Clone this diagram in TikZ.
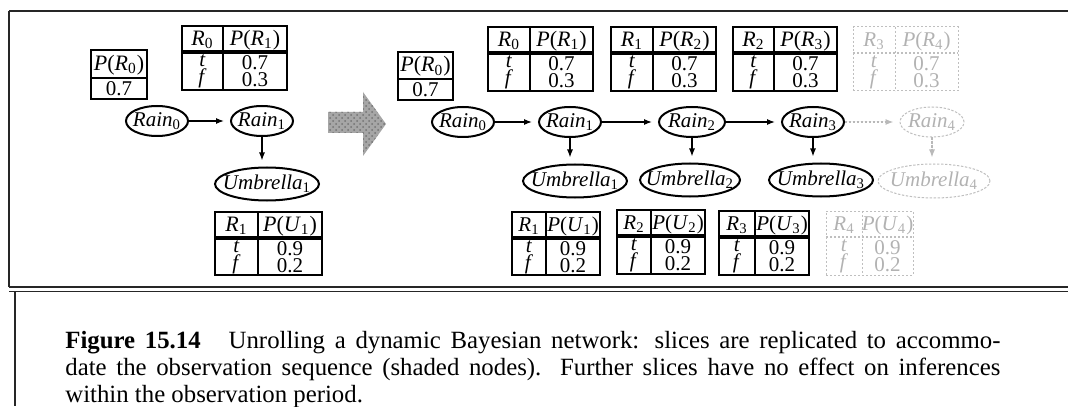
\documentclass[tikz,border=0pt]{standalone}
\usepackage{fontspec}
\setmainfont{Liberation Serif}
\usetikzlibrary{shapes.geometric,arrows.meta,patterns}

\newcommand\myiv[2]{\textit{#1}\textsubscript{#2}}
\newcommand\zb[1]{\makebox[0pt]{#1}}

% #1 name, #2 x0, #3 y0, #4 x1, #5 y1, #6 xdiv, #7 left head, #8 right head, #9 a/b values
\newcommand\cpttab[9]{%
  \pgfmathsetmacro\cxm{(#2+#4)/2}%
  \pgfmathsetmacro\cym{(#3+#5)/2}%
  \pgfmathsetmacro\cyd{#3+26}%
  \pgfmathsetmacro\cxl{(#2+#6)/2}%
  \pgfmathsetmacro\cxr{(#6+#4)/2}%
  \pgfmathsetmacro\cyh{(#3+\cyd)/2+1}%
  \pgfmathsetmacro\cyr{(\cyd+#5)/2+0.5}%
  \node[cptbox, minimum width={(#4-#2)*0.5pt}, minimum height={(#5-#3)*0.5pt}] (#1) at (\cxm,\cym) {};
  \draw[cptline] (#6,#3) -- (#6,#5);
  \draw[cptline, cptthick] (#2,\cyd) -- (#4,\cyd);
  \node[cpttext] (#1-hl) at (\cxl,\cyh) {#7};
  \node[cpttext] (#1-hr) at (\cxr,\cyh) {#8};
  \node[cptrow] (#1-tf) at (\cxl,\cyr) {\textit{t}\\\textit{f}};
  \foreach \va/\vb in {#9} {
    \node[cptrow] (#1-vals) at (\cxr,\cyr) {\va\\\vb};
  }
}

% prior table: #1 name, #2 x0, #3 y0, #4 x1, #5 y1, #6 ydiv, #7 head, #8 value
\newcommand\priortab[8]{%
  \pgfmathsetmacro\cxm{(#2+#4)/2}%
  \pgfmathsetmacro\cym{(#3+#5)/2}%
  \pgfmathsetmacro\cyh{(#3+#6)/2+1}%
  \pgfmathsetmacro\cyv{(#6+#5)/2}%
  \node[cptbox, minimum width={(#4-#2)*0.5pt}, minimum height={(#5-#3)*0.5pt}] (#1) at (\cxm,\cym) {};
  \draw[cptline] (#2,#6) -- (#4,#6);
  \node[cpttext] (#1-h) at (\cxm,\cyh) {#7};
  \node[cptrow] (#1-v) at (\cxm,\cyv) {#8};
}

\tikzset{
  cptbox/.style={draw, line width=0.7pt, inner sep=0pt},
  cptline/.style={line width=0.7pt},
  cptthick/.style={line width=1.6pt},
  cpttext/.style={inner sep=0pt, font=\fontsize{11}{12}\selectfont},
  cptrow/.style={inner sep=0pt, align=center, font=\fontsize{10.5}{8.6}\selectfont},
  netnode/.style={ellipse, draw, line width=1pt, inner sep=0pt,
    minimum width=31pt, minimum height=15pt, font=\fontsize{10.5}{12}\selectfont},
  umbnode/.style={netnode, minimum width=52pt, minimum height=16.5pt},
  arr/.style={-{Latex[length=4pt,width=3pt]}, line width=0.6pt, shorten >=3pt},
  fadeddash/.style={dash pattern=on 1.2pt off 0.8pt},
  frameline/.style={line width=0.9pt, draw=black!85},
}

\begin{document}
\begin{tikzpicture}[x=0.5pt, y=-0.5pt]
\useasboundingbox (0,0) rectangle (1068,406);

% frame
\draw[frameline, line width=1.1pt] (9,11) -- (1068,11);
\draw[frameline] (9,11) -- (9,287);
\draw[frameline, line width=0.6pt] (9,287) -- (1068,287);
\draw[frameline, line width=0.6pt] (9,291.5) -- (1068,291.5);
\draw[frameline, line width=0.6pt] (15,291.5) -- (15,406);

% ---------- left network ----------
\priortab{lp0}{91}{50}{147}{99}{78}{\textit{P}(\myiv{R}{0})}{0.7}
\cpttab{lc1}{182}{26}{287}{90}{223}{\myiv{R}{0}}{\textit{P}(\myiv{R}{1})}{0.7/0.3}
\cpttab{lu1}{215}{212}{322}{275}{258}{\myiv{R}{1}}{\textit{P}(\myiv{U}{1})}{0.9/0.2}

\node[netnode] (lr0) at (157,121) {\zb{\myiv{Rain}{0}}};
\node[netnode] (lr1) at (262,121) {\zb{\myiv{Rain}{1}}};
\node[umbnode] (lum1) at (267,184) {\zb{\myiv{Umbrella}{1}}};
\draw[arr] (lr0.east) -- (lr1.west);
\draw[arr] (lr1.south) -- (lr1.south |- lum1.north);

% ---------- big shaded arrow ----------
\fill[gray!70] (328,112) -- (363,112) -- (363,92) -- (386,124) -- (363,156) -- (363,133) -- (328,133) -- cycle;
\fill[pattern=crosshatch dots, pattern color=black!55] (328,112) -- (363,112) -- (363,92) -- (386,124) -- (363,156) -- (363,133) -- (328,133) -- cycle;

% ---------- right network ----------
\priortab{rp0}{398}{52}{453}{100}{79}{\textit{P}(\myiv{R}{0})}{0.7}
\cpttab{rc1}{488}{27}{593}{91}{530}{\myiv{R}{0}}{\textit{P}(\myiv{R}{1})}{0.7/0.3}
\cpttab{rc2}{611}{27}{716}{91}{653}{\myiv{R}{1}}{\textit{P}(\myiv{R}{2})}{0.7/0.3}
\cpttab{rc3}{733}{27}{837}{91}{774}{\myiv{R}{2}}{\textit{P}(\myiv{R}{3})}{0.7/0.3}
\begin{scope}[cpttext/.style={inner sep=0pt, font=\fontsize{10.5}{12}\selectfont}]
\cpttab{ru1}{512}{212}{600}{275}{546}{\myiv{R}{1}}{\textit{P}(\myiv{U}{1})}{0.9/0.2}
\cpttab{ru2}{617}{210}{705}{274}{651}{\myiv{R}{2}}{\textit{P}(\myiv{U}{2})}{0.9/0.2}
\cpttab{ru3}{719}{211}{809}{275}{755}{\myiv{R}{3}}{\textit{P}(\myiv{U}{3})}{0.9/0.2}
\end{scope}

\node[netnode] (rr0) at (463,122) {\zb{\myiv{Rain}{0}}};
\node[netnode] (rr1) at (570,122) {\zb{\myiv{Rain}{1}}};
\node[netnode, minimum width=33pt] (rr2) at (692,122) {\zb{\myiv{Rain}{2}}};
\node[netnode] (rr3) at (813,122) {\zb{\myiv{Rain}{3}}};
\node[umbnode] (rum1) at (575,181) {\zb{\myiv{Umbrella}{1}}};
\node[umbnode, minimum width=50pt] (rum2) at (690,180) {\zb{\myiv{Umbrella}{2}}};
\node[umbnode] (rum3) at (821,180) {\zb{\myiv{Umbrella}{3}}};

\draw[arr] (rr0.east) -- (rr1.west);
\draw[arr] (rr1.east) -- (rr2.west);
\draw[arr] (rr2.east) -- (rr3.west);
\draw[arr] (rr1.south) -- (rr1.south |- rum1.north);
\draw[arr] (rr2.south) -- (rr2.south |- rum2.north);
\draw[arr] (rr3.south) -- (rr3.south |- rum3.north);

% ---------- faded slice ----------
\begin{scope}[
  cptbox/.style={draw=gray!50, fadeddash, line width=0.5pt, inner sep=0pt},
  cptline/.style={draw=gray!50, fadeddash, line width=0.5pt},
  cptthick/.style={line width=0.9pt},
  cpttext/.style={inner sep=0pt, text=gray!60, font=\fontsize{10.5}{12}\selectfont},
  cptrow/.style={inner sep=0pt, align=center, text=gray!60, font=\fontsize{10.5}{8.6}\selectfont},
  netnode/.style={ellipse, draw=gray!50, fadeddash, line width=0.5pt, inner sep=0pt, text=gray!60,
    minimum width=32pt, minimum height=15pt, font=\fontsize{10.5}{12}\selectfont},
  umbnode/.style={netnode, minimum width=56pt, minimum height=17pt}]
\cpttab{rc4}{853}{27}{958}{91}{895}{\myiv{R}{3}}{\textit{P}(\myiv{R}{4})}{0.7/0.3}
\cpttab{ru4}{826}{211}{913}{275}{862}{\myiv{R}{4}}{\textit{P}(\myiv{U}{4})}{0.9/0.2}
\node[netnode] (rr4) at (932,122) {\zb{\myiv{Rain}{4}}};
\node[umbnode] (rum4) at (934,181) {\zb{\myiv{Umbrella}{4}}};
\draw[arr, draw=gray!55, fill=gray!55, fadeddash] (rr3.east) -- (rr4.west);
\draw[arr, draw=gray!55, fill=gray!55, fadeddash] (rr4.south) -- (rr4.south |- rum4.north);
\end{scope}

% ---------- caption ----------
\node[anchor=base west, inner sep=0pt] (caption) at (65,348) {\parbox[t]{467.5pt}{\fontsize{12.4}{13.5}\selectfont
\textbf{Figure 15.14}\hspace{14pt}Unrolling a dynamic Bayesian network: slices are replicated to accommo-\linebreak
date the observation sequence (shaded nodes). Further slices have no effect on inferences\linebreak
within the observation period.}};
\end{tikzpicture}
\end{document}
